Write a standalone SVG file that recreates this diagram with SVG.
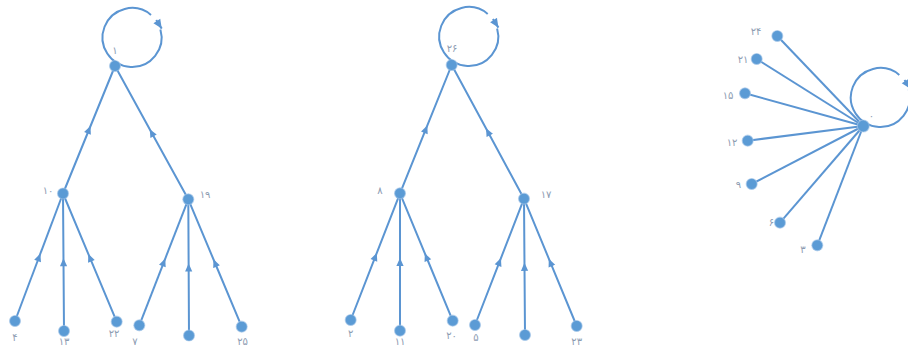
<svg xmlns="http://www.w3.org/2000/svg" width="908" height="347" viewBox="0 0 908 347">
<style>
.e{fill:none;stroke:#5b95d2;stroke-width:2;}
.m{marker-mid:url(#arr);}
.n{fill:#5b9bd5;stroke:#a9c8ea;stroke-width:1.2;stroke-opacity:0.6;}
.t{font-family:"DejaVu Sans",sans-serif;font-size:10px;fill:#8d9cb2;text-anchor:middle;}
</style>
<defs>
<marker id="arr" viewBox="0 0 10 10" refX="5" refY="5" markerWidth="9" markerHeight="8" markerUnits="userSpaceOnUse" orient="auto"><path d="M0,0.5 L10,5 L0,9.5 z" fill="#5b95d2"/></marker>
<marker id="arrEnd" viewBox="0 0 10 10" refX="10" refY="5" markerWidth="10" markerHeight="9" markerUnits="userSpaceOnUse" orient="auto"><path d="M0,0.5 L10,5 L0,9.5 z" fill="#5b95d2"/></marker>
<g id="loop"><path class="e" d="M45.4,-36.6 A29.5,29.5 0 1 1 36,-51.1"/><path class="e" d="M41.2,-46 L46.7,-37.4" marker-end="url(#arrEnd)"/></g>
</defs>
<g id="connectors">
<use href="#loop" x="115" y="66"/>
<use href="#loop" x="451.7" y="65"/>
<use href="#loop" x="863.3" y="126"/>
<path class="e m" d="M15,321 L39,257.25 L63,193.5"/>
<path class="e m" d="M64,331 L63.5,262.25 L63,193.5"/>
<path class="e m" d="M116.7,321.7 L89.85,257.6 L63,193.5"/>
<path class="e m" d="M139.3,325.3 L163.8,262.3 L188.3,199.3"/>
<path class="e m" d="M189,335.5 L188.65,267.4 L188.3,199.3"/>
<path class="e m" d="M241.7,326.7 L215,263 L188.3,199.3"/>
<path class="e m" d="M63,193.5 L89,129.75 L115,66"/>
<path class="e m" d="M188.3,199.3 L151.65,132.65 L115,66"/>
<path class="e m" d="M350.7,320 L375.35,256.65 L400,193.3"/>
<path class="e m" d="M400,330.7 L400,262 L400,193.3"/>
<path class="e m" d="M452.7,320.7 L426.35,257 L400,193.3"/>
<path class="e m" d="M475,325 L499.5,261.85 L524,198.7"/>
<path class="e m" d="M525,335 L524.5,266.85 L524,198.7"/>
<path class="e m" d="M576.7,326 L550.35,262.35 L524,198.7"/>
<path class="e m" d="M400,193.3 L425.85,129.15 L451.7,65"/>
<path class="e m" d="M524,198.7 L487.85,131.85 L451.7,65"/>
<path class="e" d="M777.3,36 L863.3,126"/>
<path class="e" d="M756.7,59 L863.3,126"/>
<path class="e" d="M745,93.3 L863.3,126"/>
<path class="e" d="M747.7,140.7 L863.3,126"/>
<path class="e" d="M751.7,184 L863.3,126"/>
<path class="e" d="M780,222.7 L863.3,126"/>
<path class="e" d="M817.3,245.3 L863.3,126"/>
</g>
<g id="n1"><circle class="n" cx="115" cy="66" r="5.5"/><text class="t" x="115" y="54">۱</text></g>
<g id="n10"><circle class="n" cx="63" cy="193.5" r="5.5"/><text class="t" x="48" y="194">۱۰</text></g>
<g id="n19"><circle class="n" cx="188.3" cy="199.3" r="5.5"/><text class="t" x="205" y="198">۱۹</text></g>
<g id="n4"><circle class="n" cx="15" cy="321" r="5.5"/><text class="t" x="15" y="341">۴</text></g>
<g id="n13"><circle class="n" cx="64" cy="331" r="5.5"/><text class="t" x="64" y="345">۱۳</text></g>
<g id="n22"><circle class="n" cx="116.7" cy="321.7" r="5.5"/><text class="t" x="114" y="337">۲۲</text></g>
<g id="n7"><circle class="n" cx="139.3" cy="325.3" r="5.5"/><text class="t" x="135" y="345">۷</text></g>
<g id="n16"><circle class="n" cx="189" cy="335.5" r="5.5"/></g>
<g id="n25"><circle class="n" cx="241.7" cy="326.7" r="5.5"/><text class="t" x="242.5" y="345">۲۵</text></g>
<g id="n26"><circle class="n" cx="451.7" cy="65" r="5.5"/><text class="t" x="452" y="52">۲۶</text></g>
<g id="n8"><circle class="n" cx="400" cy="193.3" r="5.5"/><text class="t" x="380" y="194">۸</text></g>
<g id="n17"><circle class="n" cx="524" cy="198.7" r="5.5"/><text class="t" x="546" y="198">۱۷</text></g>
<g id="n2"><circle class="n" cx="350.7" cy="320" r="5.5"/><text class="t" x="350.7" y="337">۲</text></g>
<g id="n11"><circle class="n" cx="400" cy="330.7" r="5.5"/><text class="t" x="400" y="345">۱۱</text></g>
<g id="n20"><circle class="n" cx="452.7" cy="320.7" r="5.5"/><text class="t" x="451.5" y="339">۲۰</text></g>
<g id="n5"><circle class="n" cx="475" cy="325" r="5.5"/><text class="t" x="476" y="340.5">۵</text></g>
<g id="n14"><circle class="n" cx="525" cy="335" r="5.5"/></g>
<g id="n23"><circle class="n" cx="576.7" cy="326" r="5.5"/><text class="t" x="576.7" y="345">۲۳</text></g>
<g id="n0"><circle class="n" cx="863.3" cy="126" r="6"/><text class="t" x="871.5" y="119">۰</text></g>
<g id="n24"><circle class="n" cx="777.3" cy="36" r="5.5"/><text class="t" x="756" y="34.5">۲۴</text></g>
<g id="n21"><circle class="n" cx="756.7" cy="59" r="5.5"/><text class="t" x="743" y="63">۲۱</text></g>
<g id="n15"><circle class="n" cx="745" cy="93.3" r="5.5"/><text class="t" x="728" y="99">۱۵</text></g>
<g id="n12"><circle class="n" cx="747.7" cy="140.7" r="5.5"/><text class="t" x="732" y="145.5">۱۲</text></g>
<g id="n9"><circle class="n" cx="751.7" cy="184" r="5.5"/><text class="t" x="738.5" y="188">۹</text></g>
<g id="n6"><circle class="n" cx="780" cy="222.7" r="5.5"/><text class="t" x="771.5" y="225.5">۶</text></g>
<g id="n3"><circle class="n" cx="817.3" cy="245.3" r="5.5"/><text class="t" x="803" y="253">۳</text></g>
</svg>
